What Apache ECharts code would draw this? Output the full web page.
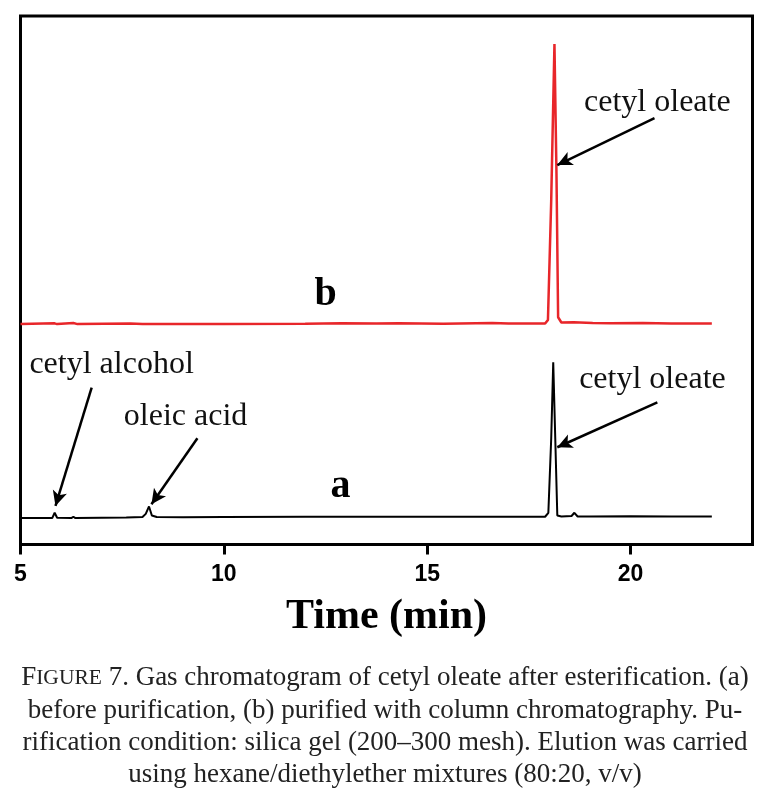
<!DOCTYPE html>
<html>
<head>
<meta charset="utf-8">
<script src="https://cdn.jsdelivr.net/npm/echarts@6/dist/echarts.min.js"></script>
<style>
html,body{margin:0;padding:0;background:#fff;}
#chart{width:783px;height:807px;}
</style>
</head>
<body>
<div id="chart"></div>
<script>
// ---- Data ----
// (a) before purification — time (min) and detector signal (relative units, plotted offset)
var timesA  = [5.00, 5.50, 5.78, 5.84, 5.90, 6.25, 6.30, 6.35, 7.00, 7.60, 8.00, 8.08, 8.16, 8.23, 8.35, 9.00, 10.0, 12.0, 14.0, 16.0, 17.0, 17.90, 17.98, 18.05, 18.10, 18.15, 18.20, 18.30, 18.55, 18.62, 18.70, 19.0, 20.0, 21.0, 22.0];
var signalA = [5.0,  5.0,  5.0,  6.0,  5.05, 5.0,  5.25, 5.0,  5.05, 5.1,  5.2,  5.8,  7.2,  5.5,  5.2,  5.15, 5.2,  5.25, 5.25, 5.25, 5.25, 5.25,  6.0,   20.0,  34.5,  20.0,  5.5,   5.3,   5.4,   6.0,   5.3,   5.3,  5.35, 5.3,  5.3];
// (b) purified with column chromatography
var timesB  = [5.00, 5.84, 5.90, 6.30, 6.40, 7.70, 8.00, 10.0, 12.0, 12.9, 13.75, 14.3, 15.4, 16.6, 17.0, 17.5, 17.90, 17.97, 18.05, 18.13, 18.18, 18.22, 18.30, 18.60, 19.07, 19.5, 20.3, 21.0, 22.0];
var signalB = [41.7, 41.85,41.7, 41.9, 41.7, 41.8, 41.7, 41.7, 41.75,41.85,41.8,  41.85,41.75,41.9, 41.8, 41.8, 41.8,  42.5,  65.0,  94.7,  70.0,  43.0,  42.0,  42.05, 41.9,  41.85,41.9, 41.8, 41.8];
var xTicks = [5, 10, 15, 20];
var peakLabels = ['cetyl alcohol', 'oleic acid', 'cetyl oleate', 'cetyl oleate'];
var traceLabels = ['a', 'b'];
var captionLines = [
  '{big|F}{sc|IGURE} 7. Gas chromatogram of cetyl oleate after esterification. (a)',
  'before purification, (b) purified with column chromatography. Pu-',
  'rification condition: silica gel (200\u2013300 mesh). Elution was carried',
  'using hexane/diethylether mixtures (80:20, v/v)'
];

function pairs(t, v){ return t.map(function(x,i){ return [x, v[i]]; }); }

// annotation anchor points in data coordinates
var labelA = [
  {name: peakLabels[0], coord: [7.24, 34.1]},
  {name: peakLabels[1], coord: [9.06, 24.2]},
  {name: peakLabels[3], coord: [20.54, 31.25]}
];
var labelB = [
  {name: peakLabels[2], coord: [20.66, 83.7]}
];
var arrowsA = [
  [[6.75, 29.7], [5.86, 7.3]],
  [[9.35, 20.1], [8.22, 7.6]],
  [[20.66, 26.9], [18.20, 18.4]]
];
var arrowsB = [
  [[20.59, 80.7], [18.20, 71.8]]
];

var labelFont = {fontFamily: 'Liberation Serif', fontSize: 32, color: '#111'};
var bigFont = {fontFamily: 'Liberation Serif', fontSize: 40, fontWeight: 'bold', color: '#000'};

function mkPoints(list){
  return list.map(function(p){
    return {name: p.name, coord: p.coord, symbol: 'rect', symbolSize: 1,
      itemStyle: {color: 'rgba(0,0,0,0)'},
      label: Object.assign({show: true, position: 'inside', formatter: p.name}, labelFont)};
  });
}
function mkArrows(list){
  return list.map(function(a){ return [{coord: a[0]}, {coord: a[1]}]; });
}

var chart = echarts.init(document.getElementById('chart'), null, {renderer: 'canvas'});
var option = {
  animation: false,
  backgroundColor: '#fff',
  graphic: [{
    type: 'text', x: 385, y: 662, silent: true,
    style: {
      text: captionLines.join('\n'),
      fontFamily: 'Liberation Serif', fontSize: 27, fill: '#222', lineHeight: 32.3,
      align: 'center', verticalAlign: 'top',
      rich: {
        big: {fontFamily: 'Liberation Serif', fontSize: 27, fill: '#222', lineHeight: 32.3},
        sc: {fontFamily: 'Liberation Serif', fontSize: 21.5, fill: '#222', lineHeight: 32.3}
      }
    }
  }],
  grid: {left: 20.5, right: 30.5, top: 16, bottom: 262.5, show: true, borderColor: '#000', borderWidth: 3, backgroundColor: 'transparent'},
  xAxis: {
    type: 'value', min: 5, max: 23, interval: 5,
    axisLine: {show: false},
    axisTick: {show: true, inside: false, length: 10, lineStyle: {color: '#000', width: 3}},
    axisLabel: {show: true, margin: 19, fontFamily: 'Liberation Sans', fontWeight: 'bold', fontSize: 23, color: '#000', showMaxLabel: false,
      formatter: function(v){ return xTicks.indexOf(v) >= 0 ? String(v) : ''; }},
    splitLine: {show: false},
    name: 'Time (min)', nameLocation: 'middle', nameGap: 52,
    nameTextStyle: {fontFamily: 'Liberation Serif', fontWeight: 'bold', fontSize: 42, color: '#000'}
  },
  yAxis: {type: 'value', min: 0, max: 100, show: false, splitLine: {show: false}},
  series: [
    {
      name: 'a', type: 'line', data: pairs(timesA, signalA), symbol: 'none', smooth: false,
      lineStyle: {color: '#000', width: 2}, z: 3,
      markPoint: {silent: true, data: mkPoints(labelA).concat([
        {name: traceLabels[0], coord: [12.87, 11.0], symbol: 'rect', symbolSize: 1, itemStyle: {color: 'rgba(0,0,0,0)'},
         label: Object.assign({show: true, position: 'inside', formatter: traceLabels[0]}, bigFont)}
      ])},
      markLine: {silent: true, symbol: ['none', 'arrow'], symbolSize: [11, 15], label: {show: false},
        lineStyle: {color: '#000', width: 2.5, type: 'solid'}, data: mkArrows(arrowsA)}
    },
    {
      name: 'b', type: 'line', data: pairs(timesB, signalB), symbol: 'none', smooth: false,
      lineStyle: {color: '#e8262a', width: 2.5}, z: 3,
      markPoint: {silent: true, data: mkPoints(labelB).concat([
        {name: traceLabels[1], coord: [12.50, 47.2], symbol: 'rect', symbolSize: 1, itemStyle: {color: 'rgba(0,0,0,0)'},
         label: Object.assign({show: true, position: 'inside', formatter: traceLabels[1]}, bigFont)}
      ])},
      markLine: {silent: true, symbol: ['none', 'arrow'], symbolSize: [11, 15], label: {show: false},
        lineStyle: {color: '#000', width: 2.5, type: 'solid'}, data: mkArrows(arrowsB)}
    }
  ]
};
chart.setOption(option);
</script>
</body>
</html>
